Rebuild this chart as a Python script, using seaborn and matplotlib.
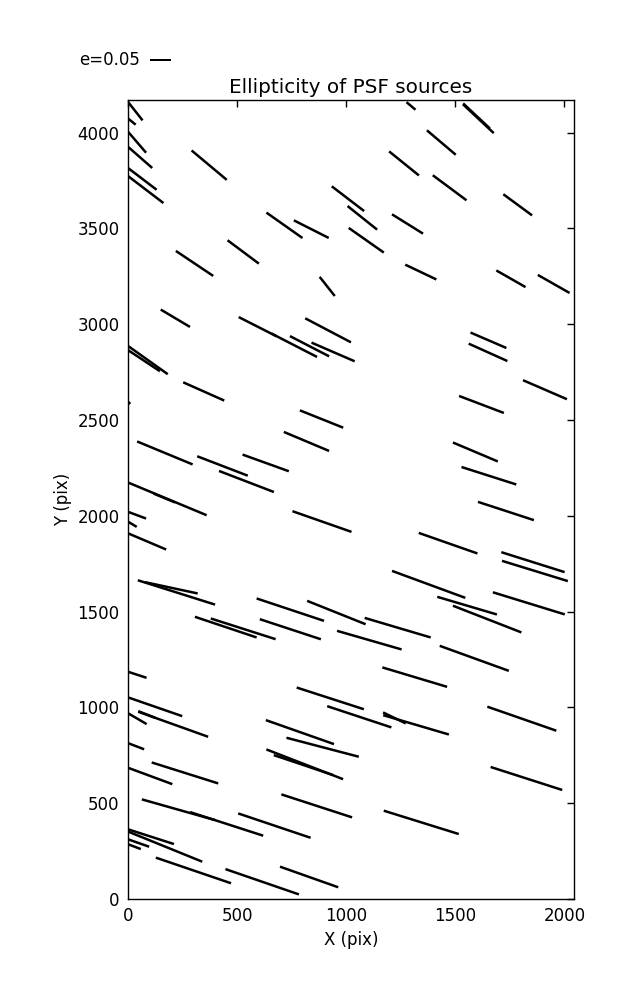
import numpy as np
import matplotlib
matplotlib.use("Agg")
import matplotlib.pyplot as plt
import seaborn as sns

# source positions (pix), ellipticity and screen angle (deg)
x_pix = [34, 18, 42, 56, 66, 82, 372, 1008, 1074, 717, 840, 1092, 528, 305, 913, 217, 594, 762, 832, 917, 940, 92, 74,
         1297, 1606, 1597, 1436, 1265, 1474, 1786, 1281, 1342, 1755, 1951, 1652, 1650,
         347, 887, 818, 169, 433, 631, 543, 181, 166, 889, 42, 21, 88, 222, 199, 744, 955, 448, 528, 744, 1236, 1106,
         1911, 1620, 1592, 1654, 1732, 1467, 1856, 1865, 1378, 1837, 1554, 1646,
         43, 125, 207, 86, 43, 38, 102, 261, 927, 1060, 788, 892, 810, 804, 865, 231, 452, 671, 106, 171, 49, 30, 300, 615, 830,
         1587, 1314, 1221, 1320, 1805, 1826, 1344,
         5]
y_pix = [4111, 4057, 3949, 3870, 3758, 3702, 3830, 3655, 3555, 3516, 3496, 3438, 3377, 3317, 3197, 3031, 2987, 2890, 2885, 2968, 2855, 2812, 2809,
         4139, 4072, 4087, 3948, 3839, 3712, 3623, 3523, 3272, 3237, 3210, 2916, 2853,
         2649, 2505, 2388, 2328, 2260, 2276, 2179, 2088, 2093, 1970, 2003, 1955, 1866, 1600, 1624, 1510, 1495, 1419, 1410, 1408, 1416, 1351,
         2658, 2581, 2333, 2209, 2025, 1857, 1758, 1712, 1642, 1543, 1531, 1461,
         1170, 1003, 912, 963, 941, 797, 642, 658, 1047, 951, 871, 792, 703, 699, 486, 466, 392, 383, 325, 273, 292, 273, 149, 90, 115,
         1256, 1158, 945, 909, 941, 629, 400,
         2590]
ellip = [.055, .023, .065, .076, .085, .105, .109, .097, .090, .105, .093, .102, .093, .107, .058, .081, .101, .122, .105, .123, .112, .115, .090,
         .028, .100, .087, .090, .091, .100, .085, .087, .082, .080, .087, .093, .101,
         .107, .111, .117, .143, .129, .117, .140, .202, .056, .149, .045, .023, .098, .193, .128, .169, .150, .155, .162, .153, .164, .160,
         .114, .114, .116, .137, .140, .148, .158, .164, .186, .179, .148, .175,
         .046, .136, .177, .043, .051, .040, .112, .166, .168, .161, .172, .178, .196, .149, .177, .181, .183, .182, .114, .190, .053, .032, .189, .185, .147,
         .175, .161, .060, .163, .174, .179, .187,
         .008]
angle = [-51.8, -39, -49.3, -41.2, -37.3, -37.3, -39.9, -37.4, -38.6, -35.2, -26.8, -35.1, -36.7, -33.8, -51.7, -30.7, -26.9, -27.2, -27.3, -27.7, -23.4, -35.4, -33.5,
         -40.2, -43.1, -43.1, -40.3, -38.9, -36.6, -36.3, -31.9, -25.4, -29.7, -29.6, -23.3, -24.2,
         -24, -21.8, -22.8, -22.5, -21, -19.8, -21, -22.6, -22.5, -19.3, -20.4, -30.8, -23, -17.5, -12.1, -18.4, -21.8, -18.5, -17.7, -18.2, -16.5, -16.1,
         -23.4, -20.8, -22.9, -17.7, -18.1, -19.3, -17.5, -17.1, -20.2, -17.1, -16.5, -21.3,
         -18.1, -19.1, -19.7, -21.3, -30.2, -20.9, -20.3, -17.5, -17.9, -18.3, -19.4, -14.7, -21.2, -18.6, -18, -15.8, -17.9, -18.6, -17.8, -22.1, -19.4, -20.8, -18.8, -19, -19.5,
         -19.9, -16.7, -25.9, -16.4, -19.2, -17.8, -17.3,
         -45]

key_e = 0.05

sns.set_theme(style="white")
plt.rcParams['font.family'] = ['DejaVu Sans']
plt.rcParams['text.color'] = 'black'
plt.rcParams['axes.labelcolor'] = 'black'
plt.rcParams['xtick.color'] = 'black'
plt.rcParams['ytick.color'] = 'black'

x = np.array(x_pix, dtype=float)
y = np.array(y_pix, dtype=float)
e = np.array(ellip)
th = np.radians(angle)
u = e * np.cos(th)
v = e * np.sin(th)

fig = plt.figure(figsize=(6.37, 10), dpi=100)
ax = fig.add_axes([128 / 637, 101 / 1000, 446 / 637, 799 / 1000])

# headless whiskers centred on each source
q = ax.quiver(x, y, u, v, angles='uv', pivot='middle', color='black',
              scale=1 / 4.2, scale_units='inches', units='inches', width=0.025,
              headwidth=0, headlength=0, headaxislength=0)
ax.quiverkey(q, 150 / 637, 0.94, key_e, 'e=%.2f' % key_e, labelpos='W',
             coordinates='figure', color='black',
             fontproperties={'size': 12})

ax.set_xlim(0, 2044)
ax.set_ylim(0, 4170)
ax.set_xticks([0, 500, 1000, 1500, 2000])
ax.set_yticks(np.arange(0, 4001, 500))
ax.tick_params(direction='in', top=True, right=True, length=5, width=1,
               labelsize=12, color='black', labelcolor='black', pad=6)
for s in ax.spines.values():
    s.set_color('black')
    s.set_linewidth(1)

ax.set_title('Ellipticity of PSF sources', fontsize=14.4, pad=5, color='black')
ax.set_xlabel('X (pix)', fontsize=12)
ax.set_ylabel('Y (pix)', fontsize=12)

fig.savefig('out.png', dpi=100, facecolor='white')
